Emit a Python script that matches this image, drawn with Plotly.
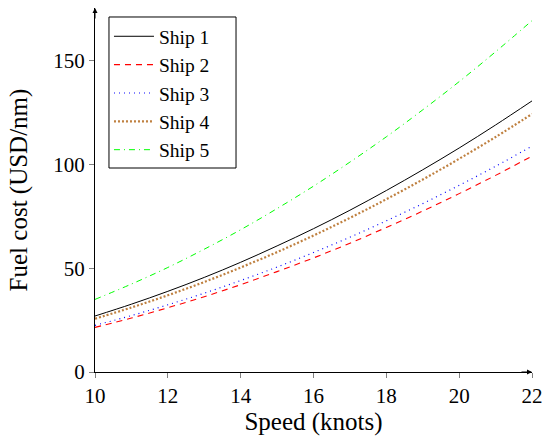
import plotly.graph_objects as go

speed = [10, 11, 12, 13, 14, 15, 16, 17, 18, 19, 20, 21, 22]
ship1 = [27.0, 32.7, 38.9, 45.6, 52.9, 60.8, 69.1, 78.0, 87.5, 97.5, 108.0, 119.1, 130.7]
ship2 = [21.5, 26.0, 31.0, 36.3, 42.1, 48.4, 55.0, 62.1, 69.7, 77.6, 86.0, 94.8, 104.1]
ship3 = [22.5, 27.2, 32.4, 38.0, 44.1, 50.6, 57.6, 65.0, 72.9, 81.2, 90.0, 99.2, 108.9]
ship4 = [25.7, 31.1, 37.0, 43.4, 50.4, 57.8, 65.8, 74.3, 83.3, 92.8, 102.8, 113.3, 124.4]
ship5 = [35.0, 42.4, 50.4, 59.2, 68.6, 78.8, 89.6, 101.2, 113.4, 126.4, 140.0, 154.4, 169.4]
names = ["Ship 1", "Ship 2", "Ship 3", "Ship 4", "Ship 5"]
xticks = [10, 12, 14, 16, 18, 20, 22]
yticks = [0, 50, 100, 150]

styles = [
    dict(color="#000000", width=1, dash="solid"),
    dict(color="#FF0000", width=1.1, dash="6px,5px"),
    dict(color="#0000FF", width=1.2, dash="1px,4px"),
    dict(color="#BF8040", width=2.2, dash="2px,2px"),
    dict(color="#00FF00", width=1, dash="6px,4px,1px,4px"),
]

fig = go.Figure()
for n, ys, st in zip(names, [ship1, ship2, ship3, ship4, ship5], styles):
    fig.add_trace(go.Scatter(x=speed, y=ys, mode="lines", name=n,
                             line=dict(shape="spline", **st)))

font = dict(family="Liberation Serif, serif", size=21, color="black")
legfont = dict(family="Liberation Serif, serif", size=19.5, color="black")
fig.update_layout(
    width=544, height=436,
    margin=dict(l=95, r=12, t=8, b=64),
    paper_bgcolor="white", plot_bgcolor="white",
    font=font,
    showlegend=True,
    legend=dict(x=0.032, y=0.975, xanchor="left", yanchor="top",
                bgcolor="rgba(0,0,0,0)", borderwidth=0,
                font=legfont, tracegroupgap=0, itemwidth=40),
    xaxis=dict(range=[10, 22], tickvals=xticks, showgrid=False, zeroline=False,
               showline=True, linecolor="black", linewidth=1, automargin=False,
               ticks="outside", ticklen=5, tickcolor="gray",
               title=dict(text="Speed (knots)", standoff=4)),
    yaxis=dict(range=[0, 175.5], tickvals=yticks, showgrid=False, zeroline=False,
               showline=True, linecolor="black", linewidth=1, automargin=False,
               ticks="outside", ticklen=5, tickcolor="gray",
               title=dict(text="Fuel cost (USD/nm)", standoff=18)),
)
# legend frame
fig.add_shape(type="rect", xref="paper", yref="paper",
              x0=0.032, x1=0.3227, y0=0.5604, y1=0.9753,
              fillcolor="white", line=dict(color="black", width=1), layer="above")
fig.add_annotation(x=22, y=0, xref="x", yref="y", ax=-12, ay=0, text="",
                   showarrow=True, arrowhead=2, arrowsize=1, arrowwidth=1, arrowcolor="black")
fig.add_annotation(x=10, y=175.5, xref="x", yref="y", ax=0, ay=12, text="",
                   showarrow=True, arrowhead=2, arrowsize=1, arrowwidth=1, arrowcolor="black")
fig.write_html("out.html", config={"displayModeBar": False},
               post_script="document.body.style.margin='0';document.body.style.overflow='hidden';")
